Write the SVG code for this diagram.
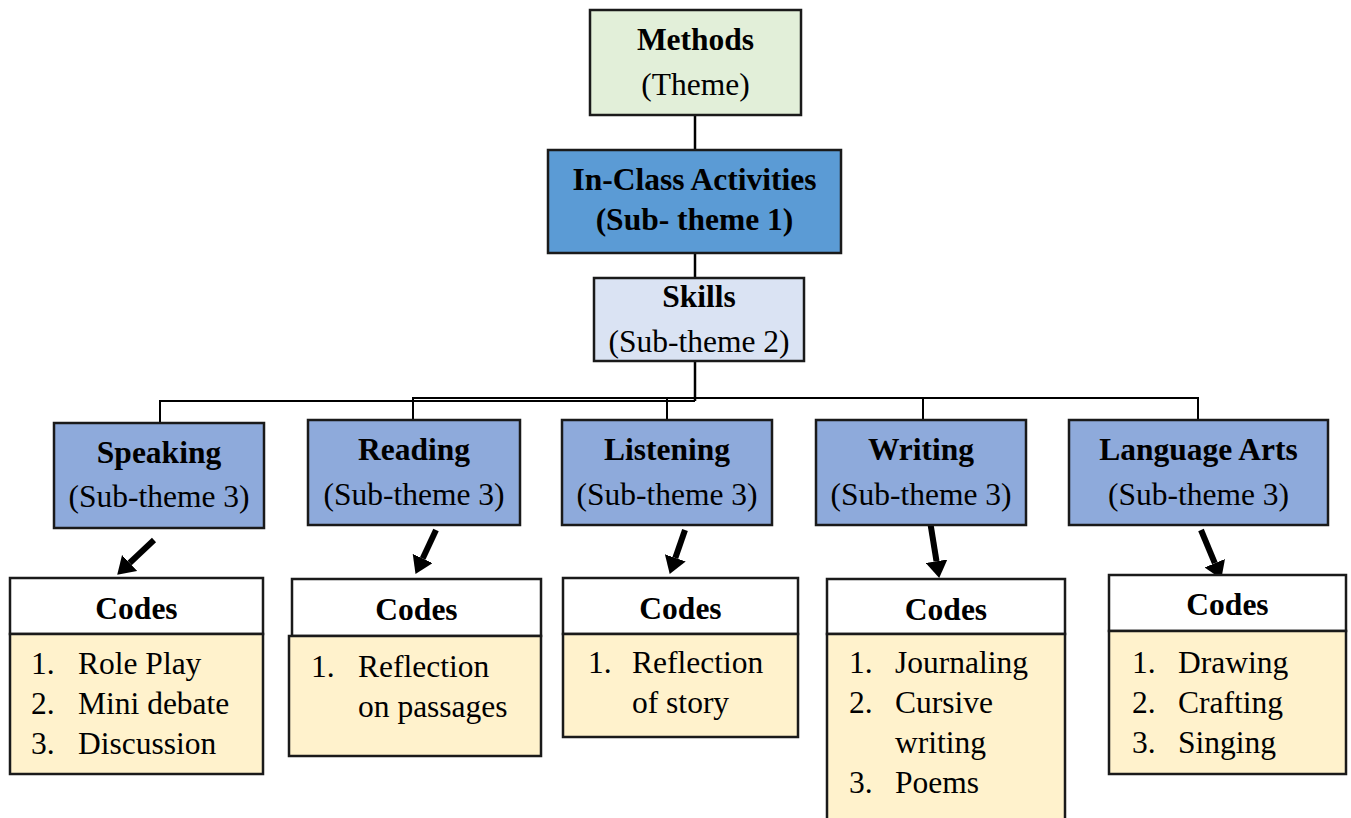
<svg xmlns="http://www.w3.org/2000/svg" width="1351" height="818" viewBox="0 0 1351 818">
<style>
text{font-family:"Liberation Serif","Times New Roman",serif;font-size:31.5px;fill:#000}
.b{font-weight:bold}
.c{text-anchor:middle}
.box{stroke:#1a1a1a;stroke-width:2.5}
.con{stroke:#000;stroke-width:2.5;fill:none}
.bus{stroke:#000;stroke-width:2;fill:none}
.arr{stroke:#000;stroke-width:6;fill:none;marker-end:url(#ah)}
.st3{fill:#8EAADB}
.hd{fill:#FFFFFF}
.bd{fill:#FFF2CC}
</style>
<defs>
<marker id="ah" markerUnits="userSpaceOnUse" markerWidth="18" markerHeight="22" refX="0" refY="11" orient="auto">
<path d="M0,0 L17,11 L0,22 z" fill="#000"/>
</marker>
</defs>
<rect width="1351" height="818" fill="#fff"/>
<g id="connectors">
<line class="con" x1="695" y1="115" x2="695" y2="150"/>
<line class="con" x1="695" y1="253" x2="695" y2="278"/>
<line class="con" x1="695" y1="361" x2="695" y2="401"/>
<polyline class="bus" points="160,424 160,401 695,401"/>
<polyline class="bus" points="413,421 413,398 1198,398 1198,420"/>
<line class="bus" x1="667" y1="398" x2="667" y2="420"/>
<line class="bus" x1="923" y1="398" x2="923" y2="420"/>
<line class="arr" x1="154" y1="540" x2="129.6" y2="563"/>
<line class="arr" x1="436" y1="530" x2="422.7" y2="558.5"/>
<line class="arr" x1="685" y1="530" x2="675.3" y2="557.9"/>
<line class="arr" x1="930" y1="521" x2="936.5" y2="561.2"/>
<line class="arr" x1="1201" y1="530" x2="1214.8" y2="563.2"/>
</g>
<g id="methods">
<rect class="box" x="590" y="10" width="211" height="105" fill="#E2EFD9"/>
<text class="b c" x="695.5" y="50">Methods</text>
<text class="c" x="695.5" y="95">(Theme)</text>
</g>
<g id="inclass">
<rect class="box" x="548" y="150" width="293" height="103" fill="#5B9BD5"/>
<text class="b c" x="694.5" y="190">In-Class Activities</text>
<text class="b c" x="694.5" y="230">(Sub- theme 1)</text>
</g>
<g id="skills">
<rect class="box" x="594" y="278" width="210" height="83" fill="#DAE3F3"/>
<text class="b c" x="699" y="307">Skills</text>
<text class="c" x="699" y="352">(Sub-theme 2)</text>
</g>
<g id="speaking">
<rect class="box st3" x="54" y="423" width="210" height="105"/>
<text class="b c" x="159" y="463">Speaking</text>
<text class="c" x="159" y="507">(Sub-theme 3)</text>
</g>
<g id="reading">
<rect class="box st3" x="308" y="420" width="212" height="105"/>
<text class="b c" x="414" y="460">Reading</text>
<text class="c" x="414" y="505">(Sub-theme 3)</text>
</g>
<g id="listening">
<rect class="box st3" x="562" y="420" width="210" height="105"/>
<text class="b c" x="667" y="460">Listening</text>
<text class="c" x="667" y="505">(Sub-theme 3)</text>
</g>
<g id="writing">
<rect class="box st3" x="816" y="420" width="210" height="105"/>
<text class="b c" x="921" y="460">Writing</text>
<text class="c" x="921" y="505">(Sub-theme 3)</text>
</g>
<g id="languagearts">
<rect class="box st3" x="1069" y="420" width="259" height="105"/>
<text class="b c" x="1198.5" y="460">Language Arts</text>
<text class="c" x="1198.5" y="505">(Sub-theme 3)</text>
</g>
<g id="codes-speaking">
<rect class="box hd" x="10" y="578" width="253" height="56"/>
<rect class="box bd" x="10" y="634" width="253" height="140"/>
<text class="b c" x="136.5" y="619">Codes</text>
<text x="31" y="674">1.</text><text x="78" y="674">Role Play</text>
<text x="31" y="714">2.</text><text x="78" y="714">Mini debate</text>
<text x="31" y="754">3.</text><text x="78" y="754">Discussion</text>
</g>
<g id="codes-reading">
<rect class="box hd" x="292" y="579" width="249" height="57"/>
<rect class="box bd" x="289" y="636" width="252" height="120"/>
<text class="b c" x="416.5" y="620">Codes</text>
<text x="311" y="677">1.</text><text x="358" y="677">Reflection</text>
<text x="358" y="717">on passages</text>
</g>
<g id="codes-listening">
<rect class="box hd" x="563" y="578" width="235" height="56"/>
<rect class="box bd" x="563" y="634" width="235" height="103"/>
<text class="b c" x="680.5" y="619">Codes</text>
<text x="588" y="673">1.</text><text x="632" y="673">Reflection</text>
<text x="632" y="713">of story</text>
</g>
<g id="codes-writing">
<rect class="box hd" x="827" y="579" width="238" height="55"/>
<rect class="box bd" x="827" y="634" width="238" height="190"/>
<text class="b c" x="946" y="620">Codes</text>
<text x="849" y="673">1.</text><text x="895" y="673">Journaling</text>
<text x="849" y="713">2.</text><text x="895" y="713">Cursive</text>
<text x="895" y="753">writing</text>
<text x="849" y="793">3.</text><text x="895" y="793">Poems</text>
</g>
<g id="codes-languagearts">
<rect class="box hd" x="1109" y="575" width="237" height="56"/>
<rect class="box bd" x="1109" y="631" width="237" height="143"/>
<text class="b c" x="1227.5" y="615">Codes</text>
<text x="1132" y="673">1.</text><text x="1178" y="673">Drawing</text>
<text x="1132" y="713">2.</text><text x="1178" y="713">Crafting</text>
<text x="1132" y="753">3.</text><text x="1178" y="753">Singing</text>
</g>
</svg>
